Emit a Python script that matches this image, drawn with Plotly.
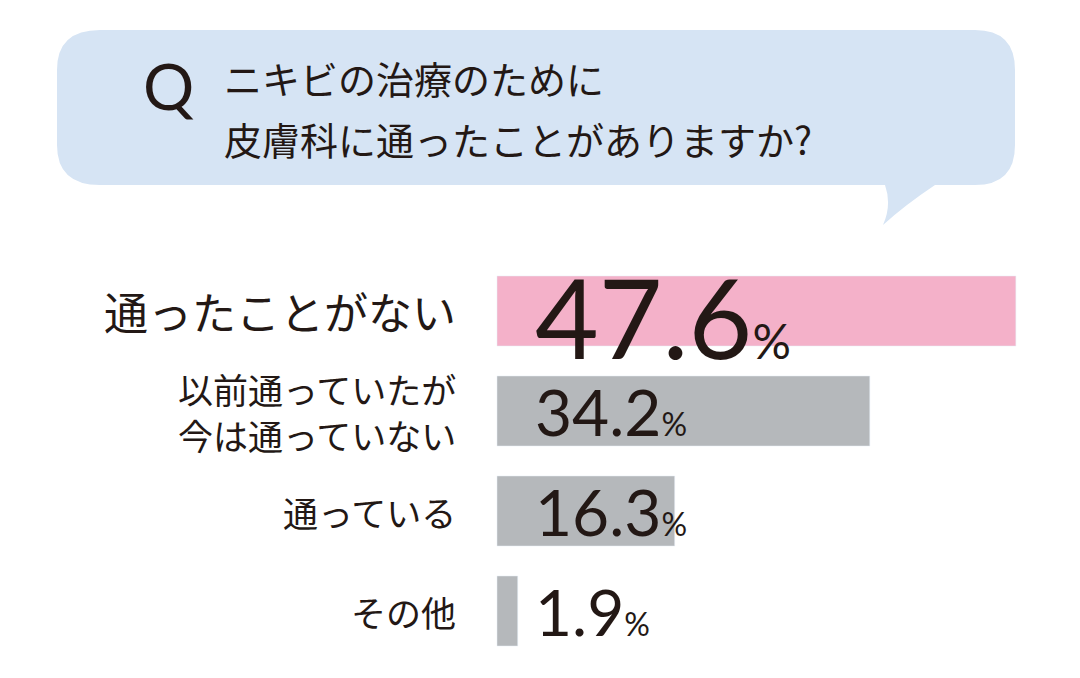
import plotly.graph_objects as go

# データ
categories = ["通ったことがない", "以前通っていたが<br>今は通っていない", "通っている", "その他"]
values = [47.6, 34.2, 16.3, 1.9]
colors = ["#f4b1c9", "#b5b8bb", "#b5b8bb", "#b5b8bb"]
label_sizes = [44, 35, 35, 35]
num_sizes = [110, 64, 64, 64]
pct_sizes = [48, 32, 32, 32]

W, H = 1080, 678
OFF = 8  # ページ余白の補正
idx = list(range(len(categories)))

fig = go.Figure()
fig.add_trace(go.Bar(x=values, y=idx, orientation="h", marker_color=colors,
                     width=0.7, base=0, hoverinfo="skip"))


def px(x):
    return (x - OFF) / W


def py(y):
    return 1 - (y - OFF) / H


# 吹き出し
bubble = (f"M {px(100)},{py(30)} L {px(975)},{py(30)} "
          f"Q {px(1015)},{py(30)} {px(1015)},{py(70)} L {px(1015)},{py(145)} "
          f"Q {px(1015)},{py(185)} {px(975)},{py(185)} L {px(935)},{py(185)} "
          f"Q {px(905)},{py(205)} {px(883)},{py(225)} Q {px(892)},{py(205)} {px(885)},{py(185)} "
          f"L {px(100)},{py(185)} Q {px(57)},{py(185)} {px(57)},{py(145)} "
          f"L {px(57)},{py(70)} Q {px(57)},{py(30)} {px(100)},{py(30)} Z")
fig.add_shape(type="path", path=bubble, xref="paper", yref="paper",
              fillcolor="#d6e4f4", line_width=0, layer="below")

font = "Noto Sans CJK JP"
fig.add_annotation(x=px(168), y=py(86), xref="paper", yref="paper", text="Q",
                   xanchor="center", yanchor="middle", showarrow=False,
                   font=dict(family="Lato", size=64, color="#231815"))
fig.add_annotation(x=px(222), y=py(77), xref="paper", yref="paper", xanchor="left",
                   yanchor="middle", text="ニキビの治療のために", showarrow=False,
                   font=dict(family=font, size=38, color="#231815"))
fig.add_annotation(x=px(222), y=py(138), xref="paper", yref="paper", xanchor="left",
                   yanchor="middle", text="皮膚科に通ったことがありますか?", showarrow=False,
                   font=dict(family=font, size=38, color="#231815"))

for i, (c, v) in enumerate(zip(categories, values)):
    fig.add_annotation(x=-3.6, y=i, xanchor="right", yanchor="middle", text=c,
                       showarrow=False, align="right",
                       font=dict(family=font, size=label_sizes[i], color="#231815"))
    fig.add_annotation(x=3.3, y=i + (0.05 if i == 0 else 0), xanchor="left",
                       yanchor="middle", showarrow=False,
                       text=f"{v}<span style='font-size:{pct_sizes[i]}px'>%</span>",
                       font=dict(family="Lato", size=num_sizes[i], color="#231815"))

s = 10.9
fig.update_layout(width=W, height=H, margin=dict(l=0, r=0, t=0, b=0),
                  plot_bgcolor="white", paper_bgcolor="white", showlegend=False,
                  xaxis=dict(range=[-(497 - OFF) / s, (W - 497 + OFF) / s], visible=False),
                  yaxis=dict(range=[3.67 + OFF / 100, -3.11 + OFF / 100], visible=False))

fig.write_html("out.html")
